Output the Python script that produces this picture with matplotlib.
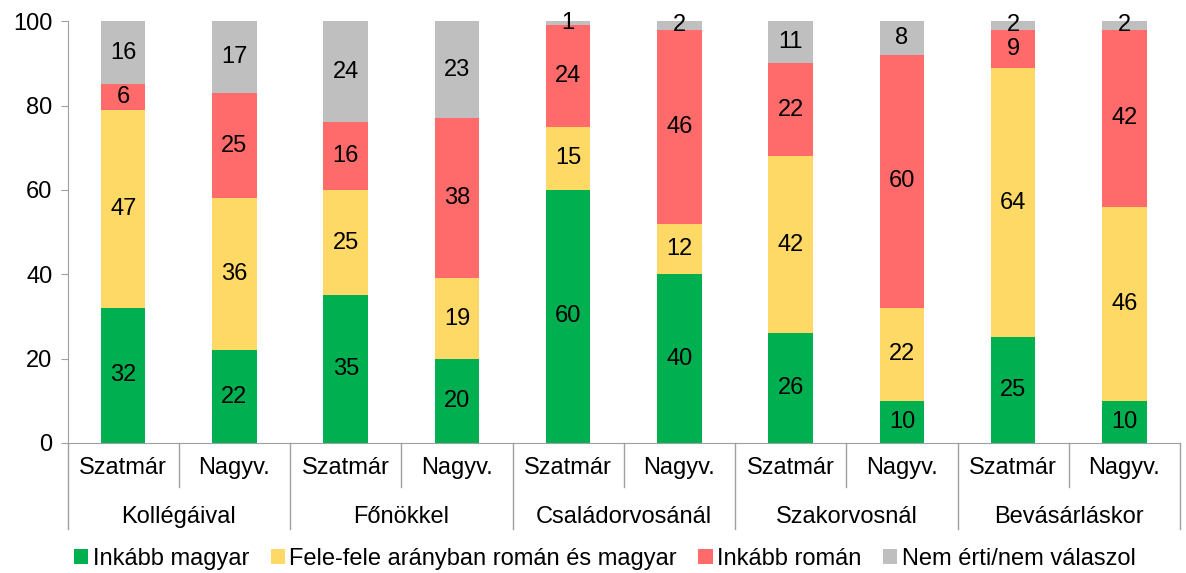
import matplotlib
matplotlib.use("Agg")
import matplotlib.pyplot as plt
import matplotlib.transforms as mtransforms
import numpy as np

plt.rcParams['font.family'] = ['Liberation Sans', 'DejaVu Sans']

groups = ['Kollégáival', 'Főnökkel', 'Családorvosánál', 'Szakorvosnál', 'Bevásárláskor']
subs = ['Szatmár', 'Nagyv.']

# sorrend: Koll Sz, Koll N, Főn Sz, Főn N, Csal Sz, Csal N, Szak Sz, Szak N, Bev Sz, Bev N
inkabb_magyar = [32, 22, 35, 20, 60, 40, 26, 10, 25, 10]
fele_fele = [47, 36, 25, 19, 15, 12, 42, 22, 64, 46]
inkabb_roman = [6, 25, 16, 38, 24, 46, 22, 60, 9, 42]
nem_erti = [16, 17, 24, 23, 1, 2, 11, 8, 2, 2]

series = [
    ('Inkább magyar', inkabb_magyar, '#00B050'),
    ('Fele-fele arányban román és magyar', fele_fele, '#FFD966'),
    ('Inkább román', inkabb_roman, '#FF6B6B'),
    ('Nem érti/nem válaszol', nem_erti, '#BFBFBF'),
]

FS = 17

fig = plt.figure(figsize=(11.86, 5.73), dpi=100)
ax = fig.add_axes([0.057, 0.227, 0.938, 0.736])

x = np.arange(len(inkabb_magyar))
bottom = np.zeros(len(x))
for name, vals, col in series:
    vals = np.array(vals)
    ax.bar(x, vals, 0.4, bottom=bottom, color=col, label=name)
    for xi, b, v in zip(x, bottom, vals):
        top = min(b + v, 100)
        ax.text(xi, (b + top) / 2, str(v), ha='center', va='center', fontsize=FS)
    bottom += vals

ax.set_xlim(-0.5, len(x) - 0.5)
ax.set_ylim(0, 100)
ax.set_yticks([0, 20, 40, 60, 80, 100])
ax.tick_params(axis='y', labelsize=FS, length=5, color='#A0A0A0', pad=6)
ax.set_xticks(x)
ax.set_xticklabels(subs * len(groups), fontsize=FS)
ax.tick_params(axis='x', length=0, pad=10)

for s in ['top', 'right']:
    ax.spines[s].set_visible(False)
ax.spines['left'].set_color('#A0A0A0')
ax.spines['bottom'].set_color('#A0A0A0')

trans = mtransforms.blended_transform_factory(ax.transData, ax.transAxes)
for i, g in enumerate(groups):
    ax.text(2 * i + 0.5, -0.175, g, transform=trans, ha='center', va='center', fontsize=FS)
for k in range(len(groups) + 1):
    ax.plot([2 * k - 0.5, 2 * k - 0.5], [0, -0.205], transform=trans, color='#A0A0A0',
            lw=1, clip_on=False)
for k in range(len(groups)):
    ax.plot([2 * k + 0.5, 2 * k + 0.5], [0, -0.105], transform=trans, color='#A0A0A0',
            lw=1, clip_on=False)

fig.legend(loc='center', bbox_to_anchor=(0.51, 0.025), ncol=4, frameon=False,
           fontsize=FS, handlelength=0.6, handleheight=0.6, handletextpad=0.2,
           columnspacing=0.9)

fig.savefig('out.png', dpi=100)
